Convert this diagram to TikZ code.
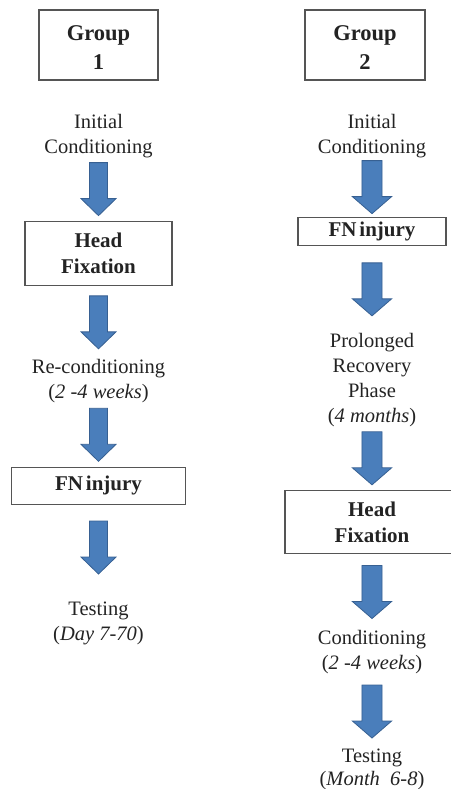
\documentclass[tikz,border=0pt]{standalone}
\usepackage{fontspec}
\setmainfont{Liberation Serif}
\usetikzlibrary{positioning,calc}
\definecolor{arrowblue}{RGB}{74,126,187}
\definecolor{arrowedge}{RGB}{55,96,146}
\definecolor{boxgray}{RGB}{85,85,85}
\definecolor{inkgray}{RGB}{35,35,35}
\tikzset{
	groupbox/.style={draw=boxgray, line width=1.2pt, text=inkgray, font=\bfseries\fontsize{22.5}{29}\selectfont, align=center, minimum height=70pt},
	stagebox/.style={draw=boxgray, line width=1.2pt, text=inkgray, font=\bfseries\fontsize{21}{26}\selectfont, align=center},
	stagetext/.style={text=inkgray, inner sep=0pt, font=\fontsize{20.5}{25}\selectfont, align=center},
	blockarrow/.style={fill=arrowblue, draw=arrowedge, line width=0.8pt, line join=miter}
}
\newcommand{\flowarrow}[3][]{%
	\coordinate (mid) at ($(#2.south)!0.5!(#3.north)$);
	\filldraw[blockarrow, shift={(mid)}, #1] (-9,26.5) -- (9,26.5) -- (9,-9.5) -- (17.5,-9.5) -- (0,-26.5) -- (-17.5,-9.5) -- (-9,-9.5) -- cycle;
}

\begin{document}
\begin{tikzpicture}[x=1pt, y=1pt]
	\useasboundingbox (0,0) rectangle (450,-789);
	
	\node[groupbox, minimum width=119pt] (g1) at (98.5,-45) {\rule{0pt}{21pt}Group\\1};
	\node[stagetext, below=33pt of g1] (ic1) {Initial\\Conditioning};
	\node[stagebox, minimum width=147pt, minimum height=64pt, below=63pt of ic1] (hf1) {Head\\Fixation};
	\node[stagetext, below=73pt of hf1] (rc1) {Re-conditioning\\(\textit{2 -4 weeks})};
	\node[stagebox, minimum width=174pt, minimum height=37pt, below=64pt of rc1] (fn1) {FN\hspace{3pt}injury};
	\node[stagetext, below=97pt of fn1] (te1) {Testing\\(\textit{Day 7-70})};
	
	\node[groupbox, minimum width=120pt] (g2) at (365,-45) {\rule{0pt}{21pt}Group\\2};
	\node[stagetext, below=33pt of g2, xshift=7pt] (ic2) {Initial\\Conditioning};
	\node[stagebox, minimum width=148pt, minimum height=28pt, below=59pt of ic2] (fn2) {FN\hspace{3pt}injury};
	\node[stagetext, below=87pt of fn2] (pr2) {Prolonged\\Recovery\\Phase\\(\textit{4 months})};
	\node[stagebox, minimum width=174pt, minimum height=63pt, below=63pt of pr2] (hf2) {Head\\Fixation};
	\node[stagetext, below=76pt of hf2] (co2) {Conditioning\\(\textit{2 -4 weeks})};
	\node[stagetext, below=75pt of co2] (te2) {Testing\\[-2pt](\textit{Month~ 6-8})};
	
	\flowarrow{ic1}{hf1}
	\flowarrow{hf1}{rc1}
	\flowarrow{rc1}{fn1}
	\flowarrow[yshift=6]{fn1}{te1}
	
	\flowarrow[xscale=1.12]{ic2}{fn2}
	\flowarrow[xscale=1.12]{fn2}{pr2}
	\flowarrow[xscale=1.12]{pr2}{hf2}
	\flowarrow[xscale=1.12]{hf2}{co2}
	\flowarrow[xscale=1.12]{co2}{te2}
\end{tikzpicture}
\end{document}
